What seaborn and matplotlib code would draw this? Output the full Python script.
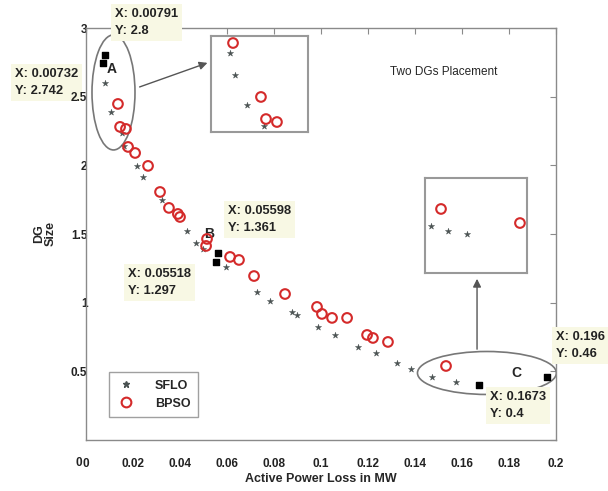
import numpy as np
import pandas as pd
import matplotlib
matplotlib.use("Agg")
import matplotlib.pyplot as plt
from matplotlib.patches import Ellipse
from matplotlib.lines import Line2D
from matplotlib.transforms import ScaledTranslation
import seaborn as sns

# ---------------- data ----------------
sflo_x = [0.0081, 0.0106, 0.0153, 0.0162, 0.0217, 0.0243, 0.0323, 0.0430, 0.0468,
          0.0498, 0.05598, 0.05518, 0.0596, 0.0728, 0.0783, 0.0877, 0.0898, 0.0987,
          0.1060, 0.1157, 0.1234, 0.1323, 0.1383, 0.1472, 0.1574, 0.1673, 0.196,
          0.00791, 0.00732]
sflo_y = [2.60, 2.39, 2.236, 2.141, 1.996, 1.915, 1.748, 1.522, 1.435,
          1.391, 1.361, 1.297, 1.260, 1.078, 1.012, 0.932, 0.910, 0.823,
          0.765, 0.677, 0.634, 0.561, 0.517, 0.459, 0.422, 0.40, 0.46,
          2.8, 2.742]

bpso_x = [0.0136, 0.0145, 0.0170, 0.0179, 0.0209, 0.0264, 0.0315, 0.0353, 0.0391,
          0.0400, 0.0515, 0.0511, 0.0613, 0.0651, 0.0715, 0.0847, 0.0983, 0.1004,
          0.1047, 0.1111, 0.1196, 0.1221, 0.1285, 0.1532]
bpso_y = [2.447, 2.280, 2.265, 2.134, 2.090, 1.996, 1.806, 1.690, 1.646,
          1.624, 1.464, 1.413, 1.333, 1.311, 1.194, 1.063, 0.969, 0.918,
          0.889, 0.889, 0.765, 0.743, 0.714, 0.539]

tip_x = [0.00791, 0.00732, 0.05598, 0.05518, 0.196, 0.1673]
tip_y = [2.8, 2.742, 1.361, 1.297, 0.46, 0.4]

# zoom insets (fractions of inset box)
insA_sflo_u = [0.196, 0.247, 0.371, 0.546]
insA_sflo_v = [0.823, 0.594, 0.281, 0.0625]
insA_bpso_u = [0.227, 0.515, 0.567, 0.68]
insA_bpso_v = [0.927, 0.365, 0.135, 0.104]
insC_sflo_u = [0.059, 0.225, 0.412]
insC_sflo_v = [0.495, 0.442, 0.411]
insC_bpso_u = [0.157, 0.931]
insC_bpso_v = [0.674, 0.526]

x_ticks = [0, 0.02, 0.04, 0.06, 0.08, 0.1, 0.12, 0.14, 0.16, 0.18, 0.2]
x_ticklabels = ["0", "0.02", "0.04", "0.06", "0.08", "0.1", "0.12", "0.14", "0.16", "0.18", "0.2"]
y_ticks = [0, 0.5, 1, 1.5, 2, 2.5, 3]
y_ticklabels = ["0", "0.5", "1", "1.5", "2", "2.5", "3"]

# ---------------- style ----------------
sns.set_style("white")
plt.rcParams["font.family"] = ["Liberation Sans", "DejaVu Sans"]

GREY = "#4a5252"
RED = "#d42a2a"
SPINE = "#8a8a8a"
TIPBG = "#f8f8e4"

fig = plt.figure(figsize=(6.08, 4.91), dpi=100)
ax = fig.add_axes([86/608, 1-440/491, 470/608, 412/491])

sflo = pd.DataFrame({"x": sflo_x, "y": sflo_y})
bpso = pd.DataFrame({"x": bpso_x, "y": bpso_y})

sns.scatterplot(data=sflo, x="x", y="y", ax=ax, marker="*", s=22,
                color=GREY, edgecolor=GREY, linewidth=0.3, zorder=3)
sns.scatterplot(data=bpso, x="x", y="y", ax=ax, marker="o", s=48,
                facecolor="none", edgecolor=RED, linewidth=1.5, zorder=4)
ax.scatter(tip_x, tip_y, marker="s", s=16, color="black", zorder=5)

ax.set_xlim(0, 0.2)
ax.set_ylim(0, 3)
ax.set_xticks(x_ticks)
ax.set_xticklabels(x_ticklabels)
ax.set_yticks(y_ticks)
ax.set_yticklabels(y_ticklabels)
ax.tick_params(direction="in", length=4, width=0.8, color=SPINE,
               top=True, right=True, labelsize=8.5)
ax.tick_params(axis="x", pad=13)
ax.tick_params(axis="y", pad=-1)
for lab in ax.get_xticklabels() + ax.get_yticklabels():
    lab.set_fontweight("bold")
    lab.set_color("#222222")
# y "0" sits beside x "0" as in the reference
ylab0 = ax.get_yticklabels()[0]
ylab0.set_transform(ylab0.get_transform() + ScaledTranslation(-5/100, -22/100, fig.dpi_scale_trans))

for sp in ax.spines.values():
    sp.set_color(SPINE)
    sp.set_linewidth(1.0)

ax.set_xlabel("Active Power Loss in MW", fontsize=9, fontweight="bold", labelpad=2)
ax.set_ylabel("DG\nSize", fontsize=9, fontweight="bold", labelpad=10, linespacing=1.0)

# legend
handles = [Line2D([], [], marker="*", ls="none", color=GREY, markersize=5),
           Line2D([], [], marker="o", ls="none", mfc="none", mec=RED, mew=1.5, markersize=7)]
leg = ax.legend(handles, ["SFLO", "BPSO"], loc="lower left", bbox_to_anchor=(0.035, 0.04),
                fancybox=False, edgecolor="#888888", fontsize=9, handletextpad=1.6,
                borderpad=0.6, labelspacing=0.5, handlelength=1.5)
for t in leg.get_texts():
    t.set_fontweight("bold")

# ellipses
ax.add_patch(Ellipse((0.0117, 2.531), 0.0183, 0.838, fill=False, ec="#777777", lw=1.2, zorder=2))
ax.add_patch(Ellipse((0.1706, 0.488), 0.0591, 0.313, fill=False, ec="#777777", lw=1.2, zorder=2))

# arrows
ax.annotate("", xy=(0.0528, 2.753), xytext=(0.0217, 2.564),
            arrowprops=dict(arrowstyle="-|>", color="#555555", lw=1.0, mutation_scale=12))
ax.annotate("", xy=(0.1664, 1.194), xytext=(0.1664, 0.641),
            arrowprops=dict(arrowstyle="-|>", color="#555555", lw=1.0, mutation_scale=12))

# point labels
ax.text(0.0111, 2.702, "A", fontsize=10, fontweight="bold", ha="center", va="center")
ax.text(0.0523, 1.50, "B", fontsize=10, fontweight="bold", ha="center", va="center")
ax.text(0.183, 0.488, "C", fontsize=10, fontweight="bold", ha="center", va="center")

fig.text(444/608, 1-72/491, "Two DGs Placement", fontsize=8.5, ha="center", va="center")

# data tips: (text, left px, top px, zorder); the second one stays under the "2.5" tick label
tips = [("X: 0.00791\nY: 2.8", 115, 8, 10),
        ("X: 0.00732\nY: 2.742", 15, 68, 0.3),
        ("X: 0.05598\nY: 1.361", 228, 205, 10),
        ("X: 0.05518\nY: 1.297", 128, 268, 10),
        ("X: 0.196\nY: 0.46", 556, 331, 10),
        ("X: 0.1673\nY: 0.4", 490, 391, 10)]
for txt, px, py, zo in tips:
    ax.text(px/608, 1-py/491, txt, transform=fig.transFigure, clip_on=False,
            fontsize=9.3, fontweight="bold", ha="left", va="top",
            linespacing=1.6, color="#222222", zorder=zo,
            bbox=dict(boxstyle="square,pad=0.3", fc=TIPBG, ec="none"))

# insets
def make_inset(rect, su, sv, bu, bv):
    ia = fig.add_axes(rect)
    ia.set_xlim(0, 1)
    ia.set_ylim(0, 1)
    ia.set_xticks([])
    ia.set_yticks([])
    for sp in ia.spines.values():
        sp.set_color("#999999")
        sp.set_linewidth(1.5)
    sns.scatterplot(x=su, y=sv, ax=ia, marker="*", s=22, color=GREY, edgecolor=GREY, linewidth=0.3)
    sns.scatterplot(x=bu, y=bv, ax=ia, marker="o", s=48, facecolor="none", edgecolor=RED, linewidth=1.5)
    return ia

make_inset([211/608, 1-132/491, 97/608, 96/491], insA_sflo_u, insA_sflo_v, insA_bpso_u, insA_bpso_v)
make_inset([425/608, 1-273/491, 102/608, 95/491], insC_sflo_u, insC_sflo_v, insC_bpso_u, insC_bpso_v)

fig.savefig("out.png", dpi=100)
